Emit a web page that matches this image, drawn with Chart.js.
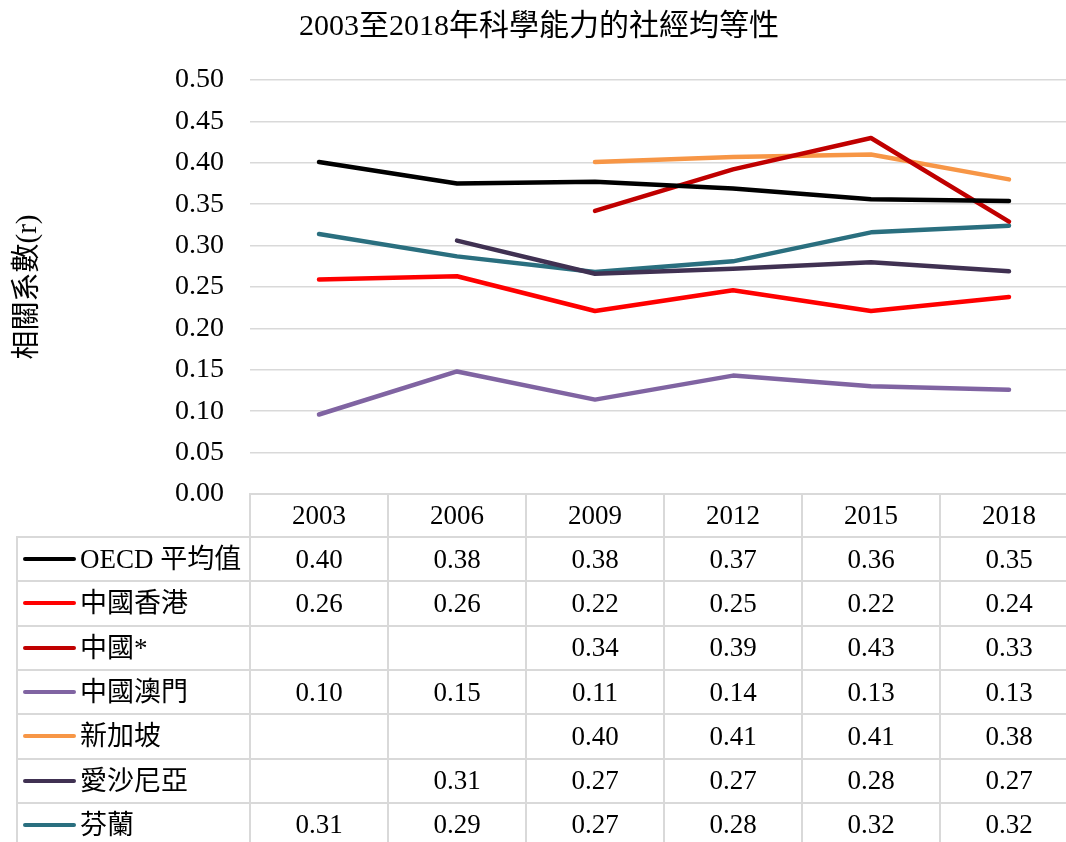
<!DOCTYPE html>
<html>
<head>
<meta charset="utf-8">
<script src="https://cdn.jsdelivr.net/npm/chart.js@4"></script>
<style>
  html, body { margin: 0; padding: 0; overflow: hidden; background: #fff; }
  #wrap { position: relative; width: 1080px; height: 842px; }
  #chart { position: absolute; left: 0; top: 0; }
  .cell { position: absolute; box-sizing: border-box; display: flex; align-items: center; justify-content: center;
          font: 27px "Liberation Serif", "Noto Sans CJK TC", serif; color: #000; }
  .hline, .vline { position: absolute; background: #d9d9d9; }
  .key { position: absolute; height: 4px; border-radius: 2px; }
  .name { position: absolute; font: 27px "Liberation Serif", "Noto Sans CJK TC", serif; color: #000; white-space: nowrap; }
</style>
</head>
<body>
<div id="wrap">
  <canvas id="chart" width="1080" height="842"></canvas>
  <div id="table"></div>
</div>
<script>
const years = ['2003', '2006', '2009', '2012', '2015', '2018'];
const oecd = [0.401, 0.375, 0.377, 0.369, 0.356, 0.354];
const hongKong = [0.259, 0.263, 0.221, 0.246, 0.221, 0.238];
const china = [null, null, 0.342, 0.392, 0.430, 0.329];
const macao = [0.096, 0.148, 0.114, 0.143, 0.130, 0.126];
const singapore = [null, null, 0.401, 0.407, 0.410, 0.380];
const estonia = [null, 0.306, 0.266, 0.272, 0.280, 0.269];
const finland = [0.314, 0.287, 0.268, 0.281, 0.316, 0.324];

const seriesNames = ['OECD 平均值', '中國香港', '中國*', '中國澳門', '新加坡', '愛沙尼亞', '芬蘭'];
const seriesColors = ['#000000', '#ff0000', '#c00000', '#8064a2', '#f79646', '#403152', '#2a6f7f'];
const seriesValues = [oecd, hongKong, china, macao, singapore, estonia, finland];

const FONT = '"Liberation Serif", "Noto Sans CJK TC", serif';

const ctx = document.getElementById('chart').getContext('2d');
const chart = new Chart(ctx, {
  type: 'line',
  data: {
    labels: years,
    datasets: seriesNames.map((name, i) => ({
      label: name,
      data: seriesValues[i],
      borderColor: seriesColors[i],
      backgroundColor: seriesColors[i],
      borderWidth: 4.5,
      borderCapStyle: 'round',
      borderJoinStyle: 'round',
      pointRadius: 0,
      tension: 0,
      spanGaps: false
    }))
  },
  options: {
    responsive: false,
    animation: false,
    layout: { padding: { left: 0, right: 2, top: 0, bottom: 348 } },
    plugins: {
      legend: { display: false },
      tooltip: { enabled: false },
      title: {
        display: true,
        text: '2003至2018年科學能力的社經均等性',
        color: '#000',
        font: { family: FONT, size: 30, weight: 'normal', lineHeight: 1.2 },
        padding: { top: 9, bottom: 35 }
      }
    },
    scales: {
      x: {
        display: false,
        offset: true
      },
      y: {
        min: 0,
        max: 0.5,
        afterFit: (scale) => { scale.width = 250; },
        ticks: {
          stepSize: 0.05,
          padding: 26,
          color: '#000',
          font: { family: FONT, size: 28 },
          callback: (v) => v.toFixed(2)
        },
        grid: { color: '#d9d9d9', lineWidth: 1.5, drawTicks: false },
        border: { display: false },
        title: {
          display: true,
          text: '相關系數(r)',
          color: '#000',
          font: { family: FONT, size: 29, lineHeight: 1.2 },
          padding: { top: 11, bottom: 0 }
        }
      }
    }
  }
});

// data table under the plot, columns taken from the x scale
function buildTable() {
  const table = document.getElementById('table');
  table.innerHTML = '';
  const xs = chart.scales.x;
  const area = chart.chartArea;
  const step = (area.right - area.left) / years.length;
  const top = area.bottom;
  const headH = 43;
  const rowH = 44.3;
  const tableLeft = 17;
  const lineW = 2;

  const add = (cls, style, text) => {
    const d = document.createElement('div');
    d.className = cls;
    Object.assign(d.style, style);
    if (text !== undefined) d.textContent = text;
    table.appendChild(d);
    return d;
  };

  // header
  years.forEach((y, i) => {
    const cx = xs.getPixelForValue(i);
    add('cell', { left: (cx - step / 2) + 'px', top: top + 'px', width: step + 'px', height: headH + 'px' }, y);
  });

  // rows
  seriesNames.forEach((name, r) => {
    const rt = top + headH + r * rowH;
    add('key', { left: '23px', top: (rt + rowH / 2 - 2) + 'px', width: '53px', background: seriesColors[r] });
    add('name', { left: '80px', top: (rt + rowH / 2 - 17) + 'px', lineHeight: '34px' }, name);
    seriesValues[r].forEach((v, i) => {
      if (v === null) return;
      const cx = xs.getPixelForValue(i);
      add('cell', { left: (cx - step / 2) + 'px', top: rt + 'px', width: step + 'px', height: rowH + 'px' }, v.toFixed(2));
    });
  });

  // horizontal lines
  add('hline', { left: area.left + 'px', top: (top - 1) + 'px', width: (area.right - area.left) + 'px', height: lineW + 'px' });
  for (let r = 0; r <= seriesNames.length; r++) {
    const y = top + headH + r * rowH;
    add('hline', { left: tableLeft + 'px', top: (y - 1) + 'px', width: (area.right - tableLeft) + 'px', height: lineW + 'px' });
  }
  // vertical lines
  const bottom = top + headH + seriesNames.length * rowH;
  add('vline', { left: (tableLeft - 1) + 'px', top: (top + headH - 1) + 'px', width: lineW + 'px', height: (bottom - top - headH) + 'px' });
  for (let i = 0; i <= years.length; i++) {
    const x = area.left + i * step;
    add('vline', { left: (x - 1) + 'px', top: (top - 1) + 'px', width: lineW + 'px', height: (bottom - top) + 'px' });
  }
}
buildTable();
</script>
</body>
</html>
